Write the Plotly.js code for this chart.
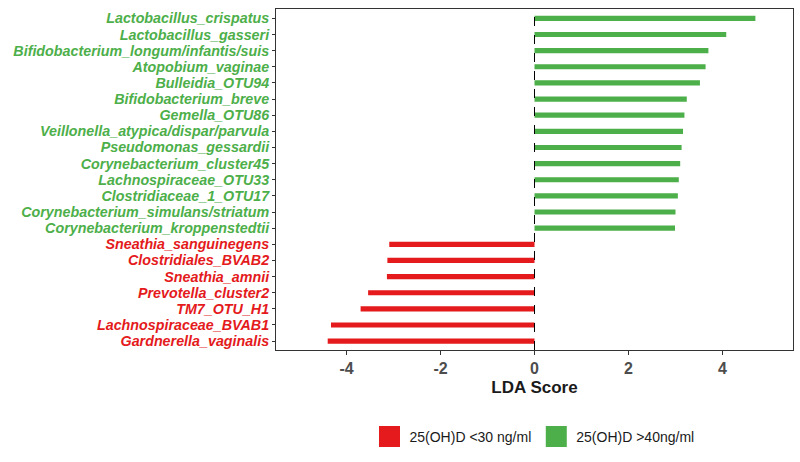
<!DOCTYPE html>
<html>
<head>
<meta charset="utf-8">
<script src="https://cdn.plot.ly/plotly-3.0.1.min.js"></script>
<style>html,body{margin:0;padding:0;background:#fff}#chart{width:800px;height:462px}</style>
</head>
<body>
<div id="chart"></div>
<script>
// Taxa enriched in the high vitamin D group (top to bottom)
var highTaxa = ["Lactobacillus_crispatus","Lactobacillus_gasseri","Bifidobacterium_longum/infantis/suis","Atopobium_vaginae","Bulleidia_OTU94","Bifidobacterium_breve","Gemella_OTU86","Veillonella_atypica/dispar/parvula","Pseudomonas_gessardii","Corynebacterium_cluster45","Lachnospiraceae_OTU33","Clostridiaceae_1_OTU17","Corynebacterium_simulans/striatum","Corynebacterium_kroppenstedtii"];
var highLDA = [4.70,4.08,3.70,3.64,3.52,3.24,3.19,3.16,3.13,3.10,3.07,3.05,3.00,2.99];
// Taxa enriched in the low vitamin D group (top to bottom)
var lowTaxa = ["Sneathia_sanguinegens","Clostridiales_BVAB2","Sneathia_amnii","Prevotella_cluster2","TM7_OTU_H1","Lachnospiraceae_BVAB1","Gardnerella_vaginalis"];
var lowLDA = [-3.09,-3.13,-3.14,-3.54,-3.70,-4.33,-4.40];
var groupNames = ["25(OH)D <30 ng/ml","25(OH)D >40ng/ml"];
var xTicks = [-4,-2,0,2,4];

var redC = "#E41A1C", greenC = "#4DAF4A";
var allTaxa = highTaxa.concat(lowTaxa);
var tickText = highTaxa.map(function(t){return '<span style="color:'+greenC+'"><b><i>'+t+'</i></b></span>';})
  .concat(lowTaxa.map(function(t){return '<span style="color:'+redC+'"><b><i>'+t+'</i></b></span>';}));

var traces = [
  {type:"bar", orientation:"h", x:lowLDA, y:lowTaxa, name:groupNames[0], marker:{color:redC}, width:0.32, showlegend:false},
  {type:"bar", orientation:"h", x:highLDA, y:highTaxa, name:groupNames[1], marker:{color:greenC}, width:0.32, showlegend:false},
  {type:"scatter", mode:"markers", x:[null], y:[null], name:groupNames[0], marker:{color:redC, symbol:"square", size:26, line:{color:redC, width:5}}},
  {type:"scatter", mode:"markers", x:[null], y:[null], name:groupNames[1], marker:{color:greenC, symbol:"square", size:26, line:{color:greenC, width:5}}}
];

var layout = {
  width:800, height:462,
  margin:{l:276, r:7, t:9, b:112},
  paper_bgcolor:"#fff", plot_bgcolor:"#fff",
  barmode:"overlay",
  font:{family:"Arial, 'Liberation Sans', sans-serif", color:"#333"},
  xaxis:{
    range:[-5.5,5.5], tickvals:xTicks, ticktext:xTicks.map(String),
    tickfont:{size:16, color:"#4d4d4d", family:"Arial, 'Liberation Sans', sans-serif", weight:"bold"},
    ticks:"outside", ticklen:4, tickcolor:"#333", showgrid:false, zeroline:false,
    showline:true, linecolor:"#333", linewidth:1, mirror:true,
    title:{text:"<b>LDA Score</b>", font:{size:17, color:"#1a1a1a"}, standoff:4}
  },
  yaxis:{
    type:"category", categoryorder:"array", categoryarray:allTaxa,
    tickvals:allTaxa, ticktext:tickText,
    range:[20.55,-0.58], tickfont:{size:14.3},
    ticks:"outside", ticklen:3, tickcolor:"#333", showgrid:false, zeroline:false,
    showline:true, linecolor:"#333", linewidth:1, mirror:true
  },
  shapes:[{type:"line", xref:"x", yref:"paper", x0:0, x1:0, y0:0, y1:1, line:{color:"#000", width:1, dash:"dash"}}],
  showlegend:true,
  legend:{orientation:"h", x:0.5, xanchor:"center", y:-0.255, yanchor:"middle", font:{size:14, color:"#1a1a1a"}, traceorder:"normal", itemsizing:"trace", itemwidth:30}
};
Plotly.newPlot("chart", traces, layout, {displayModeBar:false, staticPlot:true});
</script>
</body>
</html>
